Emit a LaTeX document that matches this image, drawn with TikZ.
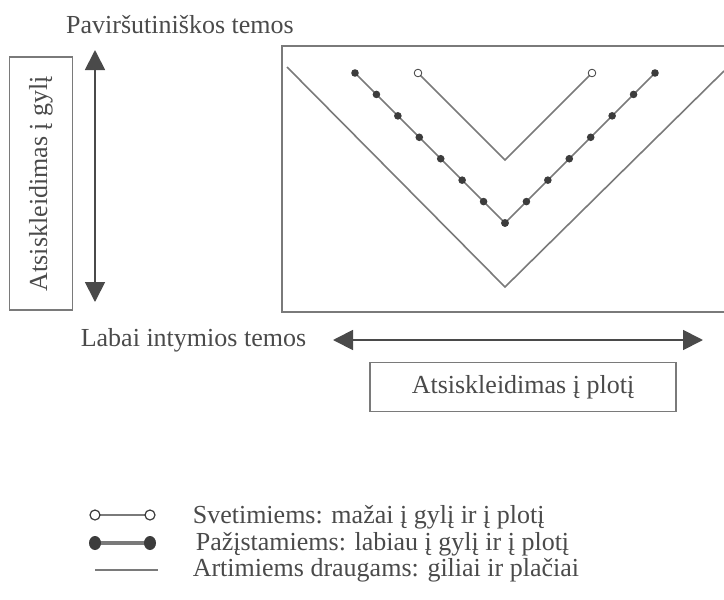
\documentclass[tikz,border=0pt]{standalone}
\usepackage{fontspec}
\setmainfont{Liberation Serif}
\usetikzlibrary{arrows.meta, positioning, calc, shapes.geometric}
\definecolor{cline}{HTML}{7A7A7A}
\definecolor{ctext}{HTML}{4A4A4A}
\definecolor{cdot}{HTML}{3C3C3C}
\tikzset{
  every picture/.style={line width=0.8pt},
  caption/.style={font=\fontsize{13}{15}\selectfont, text=ctext, inner sep=0pt},
  framebox/.style={draw=cline, line width=0.9pt, inner sep=0pt, font=\fontsize{13}{15}\selectfont, text=ctext},
  twoway/.style={{Triangle[length=10pt,width=10pt]}-{Triangle[length=10pt,width=10pt]}, draw=ctext, line width=0.9pt},
  vline/.style={draw=cline, line width=0.8pt},
  dot/.style={circle, fill=cdot, inner sep=0pt, minimum size=3.8pt},
  odot/.style={circle, draw=cdot, fill=white, inner sep=0pt, minimum size=3.8pt, line width=0.4pt},
}

\begin{document}
\begin{tikzpicture}[x=0.5pt, y=-0.5pt]
  \useasboundingbox (0,0) rectangle (724,600);
  % axes
  \node[caption] (surface) at (180,25) {Paviršutiniškos temos};
  \node[caption, anchor=west] (intimate) at (80,340) {Labai intymios temos};
  \node[framebox, rotate=90, minimum width=126.5pt, minimum height=31.5pt] (depth) at (41,183.5) {Atsiskleidimas į gylį};
  \node[framebox, minimum width=153pt, minimum height=24.5pt] (breadth) at (523,387) {Atsiskleidimas į plotį};
  \coordinate (dtop) at (95,50);
  \coordinate (dbot) at (95,302);
  \coordinate (wl) at (333,340);
  \coordinate (wr) at (703,340);
  \draw[twoway] (dtop) -- (dbot);
  \draw[twoway] (wl) -- (wr);
  % chart
  \draw[draw=cline, line width=0.9pt] (724,46) -- (282,46) -- (282,312) -- (724,312);
  \draw[vline] (287,67) -- (505,287) -- (724,71);
  \draw[vline] (355,73) -- (505,223) -- (655,73);
  \foreach \i in {0,...,7} {
    \node[dot] at ({355+21.43*\i},{73+21.43*\i}) {};
    \node[dot] at ({655-21.43*\i},{73+21.43*\i}) {};
  }
  \draw[vline] (418,73) -- (505,160) -- (592,73);
  \node[odot] at (418,73) {};
  \node[odot] at (592,73) {};
  % legend
  \draw[draw=cline, line width=1.4pt] (95,515) -- (150,515);
  \node[odot, minimum size=5pt, line width=0.6pt] at (95,515) {};
  \node[odot, minimum size=5pt, line width=0.6pt] at (150,515) {};
  \draw[draw=cline, line width=1.6pt] (95,543) -- (150,543);
  \node[dot, ellipse, minimum width=6pt, minimum height=7pt] at (95,543) {};
  \node[dot, ellipse, minimum width=6pt, minimum height=7pt] at (150,543) {};
  \draw[draw=cline, line width=1.3pt] (95,570) -- (158,570);
  \node[caption, anchor=west] (strangers) at (192,517) {Svetimiems: mažai į gylį ir į plotį};
  \node[caption, anchor=west] (acquaint) at (195,544) {Pažįstamiems: labiau į gylį ir į plotį};
  \node[caption, anchor=west] (friends) at (192,570) {Artimiems draugams: giliai ir plačiai};
\end{tikzpicture}
\end{document}
